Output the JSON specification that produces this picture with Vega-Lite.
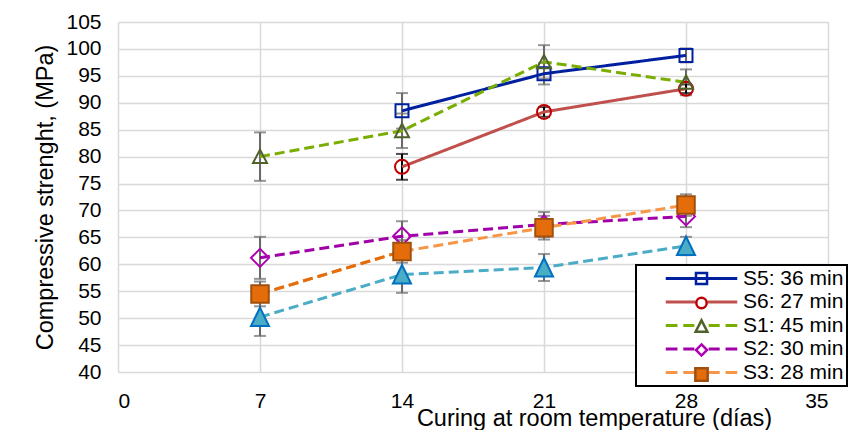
{
  "$schema": "https://vega.github.io/schema/vega-lite/v6.json",
  "width": 710,
  "height": 350,
  "autosize": {"type": "none"},
  "padding": {"left": 118, "top": 22, "right": 20, "bottom": 58},
  "background": "white",
  "config": {
    "font": "Liberation Sans",
    "view": {"stroke": null},
    "axis": {
      "labelFont": "Liberation Sans",
      "titleFont": "Liberation Sans",
      "labelColor": "#000000",
      "titleColor": "#000000",
      "labelFontSize": 21,
      "titleFontSize": 23.5,
      "titleFontWeight": "normal",
      "gridColor": "#D9D9D9",
      "gridWidth": 1.5,
      "ticks": false,
      "domain": false
    },
    "legend": {"strokeWidth": 2}
  },
  "data": {
    "values": [
      {"series": "S5: 36 min", "day": 14, "value": 88.5, "err": 3.3},
      {"series": "S5: 36 min", "day": 21, "value": 95.4, "err": 2.0},
      {"series": "S5: 36 min", "day": 28, "value": 98.8, "err": 1.3},
      {"series": "S6: 27 min", "day": 14, "value": 78.1, "err": 2.4},
      {"series": "S6: 27 min", "day": 21, "value": 88.3, "err": 0.9},
      {"series": "S6: 27 min", "day": 28, "value": 92.6, "err": 0.8},
      {"series": "S1: 45 min", "day": 7, "value": 80.0, "err": 4.5},
      {"series": "S1: 45 min", "day": 14, "value": 84.8, "err": 3.2},
      {"series": "S1: 45 min", "day": 21, "value": 97.6, "err": 3.1},
      {"series": "S1: 45 min", "day": 28, "value": 93.8, "err": 2.4},
      {"series": "S2: 30 min", "day": 7, "value": 61.2, "err": 3.9},
      {"series": "S2: 30 min", "day": 14, "value": 65.2, "err": 2.8},
      {"series": "S2: 30 min", "day": 21, "value": 67.4, "err": 2.3},
      {"series": "S2: 30 min", "day": 28, "value": 68.9, "err": 2.0},
      {"series": "S3: 28 min", "day": 7, "value": 54.5, "err": 2.3},
      {"series": "S3: 28 min", "day": 14, "value": 62.4, "err": 2.1},
      {"series": "S3: 28 min", "day": 21, "value": 66.8, "err": 2.2},
      {"series": "S3: 28 min", "day": 28, "value": 71.0, "err": 2.0},
      {"series": "S4", "day": 7, "value": 50.2, "err": 3.5},
      {"series": "S4", "day": 14, "value": 58.1, "err": 3.4},
      {"series": "S4", "day": 21, "value": 59.4, "err": 2.5},
      {"series": "S4", "day": 28, "value": 63.4, "err": 1.7}
    ]
  },
  "encoding": {
    "x": {
      "field": "day",
      "type": "quantitative",
      "scale": {"domain": [0, 35], "nice": false},
      "axis": {
        "values": [0, 7, 14, 21, 28, 35],
        "title": "Curing at room temperature (días)",
        "labelPadding": 18,
        "titleX": 476,
        "titleY": 53,
        "titleAlign": "center",
        "titleBaseline": "alphabetic",
        "titleAnchor": null
      }
    },
    "y": {
      "field": "value",
      "type": "quantitative",
      "scale": {"domain": [40, 105], "nice": false, "zero": false},
      "axis": {
        "values": [40, 45, 50, 55, 60, 65, 70, 75, 80, 85, 90, 95, 100, 105],
        "title": "Compressive strenght, (MPa)",
        "labelPadding": 17,
        "titleX": -73,
        "titleY": 175,
        "titleAngle": -90,
        "titleAlign": "center",
        "titleBaseline": "middle",
        "titleAnchor": null
      }
    }
  },
  "layer": [
    {
      "transform": [{"filter": "datum.series != 'S6: 27 min'"}],
      "mark": {"type": "errorbar", "ticks": {"size": 12}, "thickness": 2, "color": "#6A6A6A"},
      "encoding": {"yError": {"field": "err"}}
    },
    {
      "transform": [{"filter": "datum.series == 'S6: 27 min'"}],
      "mark": {"type": "errorbar", "ticks": {"size": 12}, "thickness": 2, "color": "#000000"},
      "encoding": {"yError": {"field": "err"}}
    },
    {
      "mark": {"type": "line", "strokeWidth": 3, "strokeCap": "butt"},
      "encoding": {
        "stroke": {
          "field": "series",
          "type": "nominal",
          "scale": {
            "domain": ["S5: 36 min", "S6: 27 min", "S1: 45 min", "S2: 30 min", "S3: 28 min", "S4"],
            "range": ["#00209F", "#C0504D", "#79AE00", "#A000A8", "#F79646", "#4BACC6"]
          },
          "legend": null
        },
        "strokeDash": {
          "field": "series",
          "type": "nominal",
          "scale": {
            "domain": ["S5: 36 min", "S6: 27 min", "S1: 45 min", "S2: 30 min", "S3: 28 min", "S4"],
            "range": [[1, 0], [1, 0], [10, 5], [10, 5], [10, 5], [10, 5]]
          },
          "legend": null
        }
      }
    },
    {
      "transform": [{"filter": "datum.series == 'S3: 28 min' && datum.day <= 14"}],
      "mark": {"type": "line", "strokeWidth": 3, "strokeCap": "butt", "color": "#E46C0A", "strokeDash": [10, 5]},
      "encoding": {}
    },
    {
      "mark": {"type": "point", "filled": true, "size": 100, "strokeWidth": 2, "opacity": 1},
      "encoding": {
        "shape": {
          "field": "series",
          "type": "nominal",
          "scale": {
            "domain": ["S5: 36 min", "S6: 27 min", "S1: 45 min", "S2: 30 min", "S3: 28 min", "S4"],
            "range": [
              "M-1.3,-1.3H1.3V1.3H-1.3Z",
              "M-1.4,0A1.4,1.4 0 1,0 1.4,0A1.4,1.4 0 1,0 -1.4,0Z",
              "M0,-1.4L1.4,1.3H-1.4Z",
              "M0,-1.8L1.8,0L0,1.8L-1.8,0Z",
              "M-1.75,-1.75H1.75V1.75H-1.75Z",
              "M0,-1.9L1.8,1.8H-1.8Z"
            ]
          },
          "legend": null
        },
        "fill": {
          "field": "series",
          "type": "nominal",
          "scale": {
            "domain": ["S5: 36 min", "S6: 27 min", "S1: 45 min", "S2: 30 min", "S3: 28 min", "S4"],
            "range": ["transparent", "transparent", "transparent", "transparent", "#E46C0A", "#4BACC6"]
          },
          "legend": null
        },
        "stroke": {
          "field": "series",
          "type": "nominal",
          "scale": {
            "domain": ["S5: 36 min", "S6: 27 min", "S1: 45 min", "S2: 30 min", "S3: 28 min", "S4"],
            "range": ["#00209F", "#C00000", "#4F6228", "#B000B4", "#A0500E", "#0070C0"]
          },
          "legend": null
        }
      }
    },
    {
      "transform": [{"filter": "datum.day < 0"}],
      "mark": {"type": "point", "filled": false, "size": 169, "strokeWidth": 3, "opacity": 1},
      "encoding": {
        "shape": {
          "field": "series",
          "type": "nominal",
          "scale": {
            "domain": ["S5: 36 min", "S6: 27 min", "S1: 45 min", "S2: 30 min", "S3: 28 min"],
            "range": [
              "M-5.5,0H5.5",
              "M-5.5,0H-1M1,0H5.5",
              "M-5.5,0H-3.7M-2.8,0H-1.1M1.1,0H2.8M3.7,0H5.5",
              "M-5.5,0H-3.7M-2.8,0H-1.1M1.1,0H2.8M3.7,0H5.5",
              "M-5.5,0H-3.7M-2.8,0H-1.1M1.1,0H2.8M3.7,0H5.5"
            ]
          },
          "legend": {
            "orient": "none",
            "legendX": 518,
            "legendY": 243,
            "title": null,
            "padding": 3,
            "symbolSize": 169,
            "symbolStrokeWidth": 3,
            "symbolOpacity": 1,
            "symbolOffset": 52,
            "labelOffset": 31,
            "labelFont": "Liberation Sans",
            "labelFontSize": 21,
            "labelColor": "#000000",
            "rowPadding": 1.5,
            "strokeColor": "#000000",
            "fillColor": "#FFFFFF"
          }
        },
        "stroke": {
          "field": "series",
          "type": "nominal",
          "scale": {
            "domain": ["S5: 36 min", "S6: 27 min", "S1: 45 min", "S2: 30 min", "S3: 28 min"],
            "range": ["#00209F", "#C0504D", "#79AE00", "#A000A8", "#F79646"]
          }
        }
      }
    },
    {
      "transform": [{"filter": "datum.day < 0"}],
      "mark": {"type": "point", "filled": true, "size": 169, "strokeWidth": 2.5, "opacity": 1},
      "encoding": {
        "shape": {
          "field": "series",
          "type": "nominal",
          "scale": {
            "domain": ["S5: 36 min", "S6: 27 min", "S1: 45 min", "S2: 30 min", "S3: 28 min"],
            "range": [
              "M-0.85,-0.85H0.85V0.85H-0.85Z",
              "M-0.8,0A0.8,0.8 0 1,0 0.8,0A0.8,0.8 0 1,0 -0.8,0Z",
              "M0,-0.95L0.9,0.8H-0.9Z",
              "M0,-0.85L0.85,0L0,0.85L-0.85,0Z",
              "M-0.95,-0.95H0.95V0.95H-0.95Z"
            ]
          },
          "legend": {
            "orient": "none",
            "legendX": 518,
            "legendY": 243,
            "title": null,
            "padding": 3,
            "symbolSize": 169,
            "symbolStrokeWidth": 2.5,
            "symbolOpacity": 1,
            "symbolOffset": 52,
            "labelOffset": 31,
            "labelFont": "Liberation Sans",
            "labelFontSize": 21,
            "labelColor": "#000000",
            "labelOpacity": 0,
            "rowPadding": 1.5,
            "strokeColor": null,
            "fillColor": null
          }
        },
        "fill": {
          "field": "series",
          "type": "nominal",
          "scale": {
            "domain": ["S5: 36 min", "S6: 27 min", "S1: 45 min", "S2: 30 min", "S3: 28 min"],
            "range": ["transparent", "#FFFFFF", "#FFFFFF", "#FFFFFF", "#E46C0A"]
          }
        },
        "stroke": {
          "field": "series",
          "type": "nominal",
          "scale": {
            "domain": ["S5: 36 min", "S6: 27 min", "S1: 45 min", "S2: 30 min", "S3: 28 min"],
            "range": ["#00209F", "#C00000", "#4F6228", "#B000B4", "#A0500E"]
          }
        }
      }
    }
  ],
  "resolve": {
    "scale": {"stroke": "independent", "strokeDash": "independent", "shape": "independent", "fill": "independent"},
    "legend": {"stroke": "independent", "strokeDash": "independent", "shape": "independent", "fill": "independent"}
  }
}
